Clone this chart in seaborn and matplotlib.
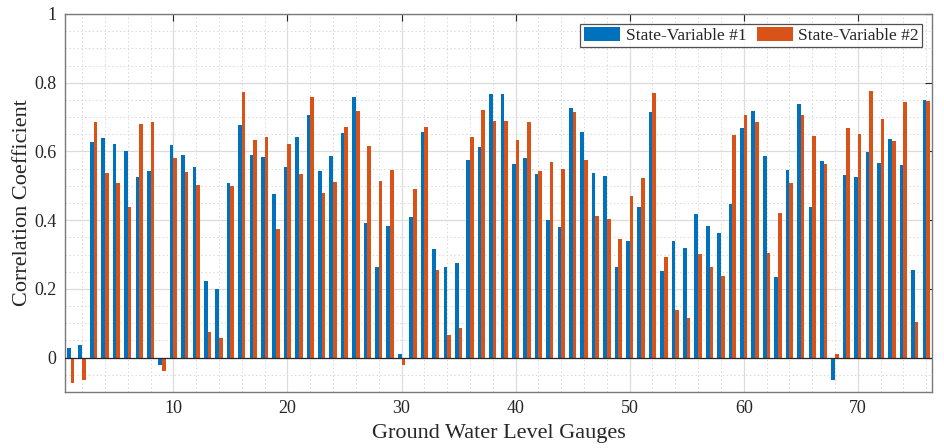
import numpy as np
import pandas as pd
import matplotlib
matplotlib.use("Agg")
import matplotlib.pyplot as plt
import seaborn as sns
from matplotlib.ticker import MultipleLocator, FuncFormatter
from matplotlib.patches import Patch

gauges = list(range(1, 77))
state_var_1 = [
    0.027, 0.036, 0.628, 0.640, 0.623, 0.601, 0.525, 0.542, -0.021, 0.620,
    0.590, 0.556, 0.223, 0.201, 0.509, 0.676, 0.589, 0.584, 0.475, 0.556,
    0.642, 0.706, 0.543, 0.587, 0.655, 0.759, 0.393, 0.264, 0.382, 0.011,
    0.408, 0.657, 0.317, 0.263, 0.276, 0.575, 0.614, 0.768, 0.766, 0.564,
    0.581, 0.535, 0.401, 0.380, 0.725, 0.658, 0.538, 0.528, 0.265, 0.340,
    0.437, 0.714, 0.251, 0.340, 0.320, 0.418, 0.383, 0.363, 0.448, 0.669,
    0.717, 0.588, 0.234, 0.547, 0.738, 0.439, 0.572, -0.066, 0.532, 0.525,
    0.599, 0.567, 0.635, 0.560, 0.255, 0.751,
]
state_var_2 = [
    -0.073, -0.066, 0.687, 0.536, 0.508, 0.438, 0.679, 0.685, -0.039, 0.582,
    0.540, 0.503, 0.075, 0.056, 0.498, 0.773, 0.634, 0.642, 0.374, 0.623,
    0.534, 0.757, 0.478, 0.512, 0.672, 0.718, 0.615, 0.513, 0.547, -0.022,
    0.491, 0.671, 0.256, 0.067, 0.085, 0.642, 0.720, 0.689, 0.689, 0.632,
    0.686, 0.542, 0.569, 0.548, 0.714, 0.574, 0.411, 0.403, 0.346, 0.469,
    0.522, 0.771, 0.294, 0.138, 0.115, 0.303, 0.264, 0.237, 0.648, 0.705,
    0.686, 0.304, 0.422, 0.508, 0.707, 0.645, 0.563, 0.010, 0.667, 0.651,
    0.775, 0.693, 0.629, 0.743, 0.103, 0.747,
]
series_names = ["State-Variable #1", "State-Variable #2"]
colors = ["#0072BD", "#D95319"]

df = pd.DataFrame({
    "gauge": gauges * 2,
    "value": state_var_1 + state_var_2,
    "series": [series_names[0]] * len(gauges) + [series_names[1]] * len(gauges),
})

sns.set_style("white")
plt.rcParams["font.family"] = ["Liberation Serif", "DejaVu Serif"]

fig = plt.figure(figsize=(9.45, 4.48), dpi=100)
ax = fig.add_axes([0.0688, 0.125, 0.9174, 0.8438])

sns.barplot(data=df, x="gauge", y="value", hue="series", palette=colors,
            native_scale=True, width=0.64, linewidth=0, errorbar=None,
            legend=False, ax=ax, saturation=1)

ax.set_xlim(0.5, 76.5)
ax.set_ylim(-0.1, 1.0)
ax.xaxis.set_major_locator(MultipleLocator(10))
ax.xaxis.set_minor_locator(MultipleLocator(2))
ax.yaxis.set_major_locator(MultipleLocator(0.2))
ax.yaxis.set_minor_locator(MultipleLocator(0.05))
ax.yaxis.set_major_formatter(FuncFormatter(lambda v, p: ("%g" % round(v, 2))))
ax.xaxis.set_major_formatter(FuncFormatter(lambda v, p: "%d" % v))

ax.grid(True, which="major", color="#dcdcdc", linewidth=0.9, linestyle="-")
ax.grid(True, which="minor", color="#d8d8d8", linewidth=0.7, linestyle=(0, (1.5, 2.5)))
ax.set_axisbelow(True)

ax.axhline(0, color="#262626", linewidth=0.9, zorder=3)

ax.tick_params(axis="both", which="major", direction="in", length=5, width=0.8,
               top=True, right=True, labelsize=13, colors="#262626", pad=6)
ax.tick_params(axis="both", which="minor", length=0, top=True, right=True)
for s in ax.spines.values():
    s.set_color("#7a7a7a")
    s.set_linewidth(1.0)

ax.set_xlabel("Ground Water Level Gauges", fontsize=16, color="#262626", labelpad=5)
ax.set_ylabel("Correlation Coefficient", fontsize=16, color="#262626", labelpad=2)

handles = [Patch(facecolor=c, edgecolor="none", label=n) for c, n in zip(colors, series_names)]
leg = ax.legend(handles=handles, ncol=2, loc="upper right", fontsize=12.5,
                frameon=True, fancybox=False, edgecolor="#262626",
                handlelength=2.1, handleheight=0.85, columnspacing=0.6,
                handletextpad=0.3, borderpad=0.2, borderaxespad=0.55)
leg.get_frame().set_linewidth(0.9)

fig.savefig("out.png", dpi=100)
